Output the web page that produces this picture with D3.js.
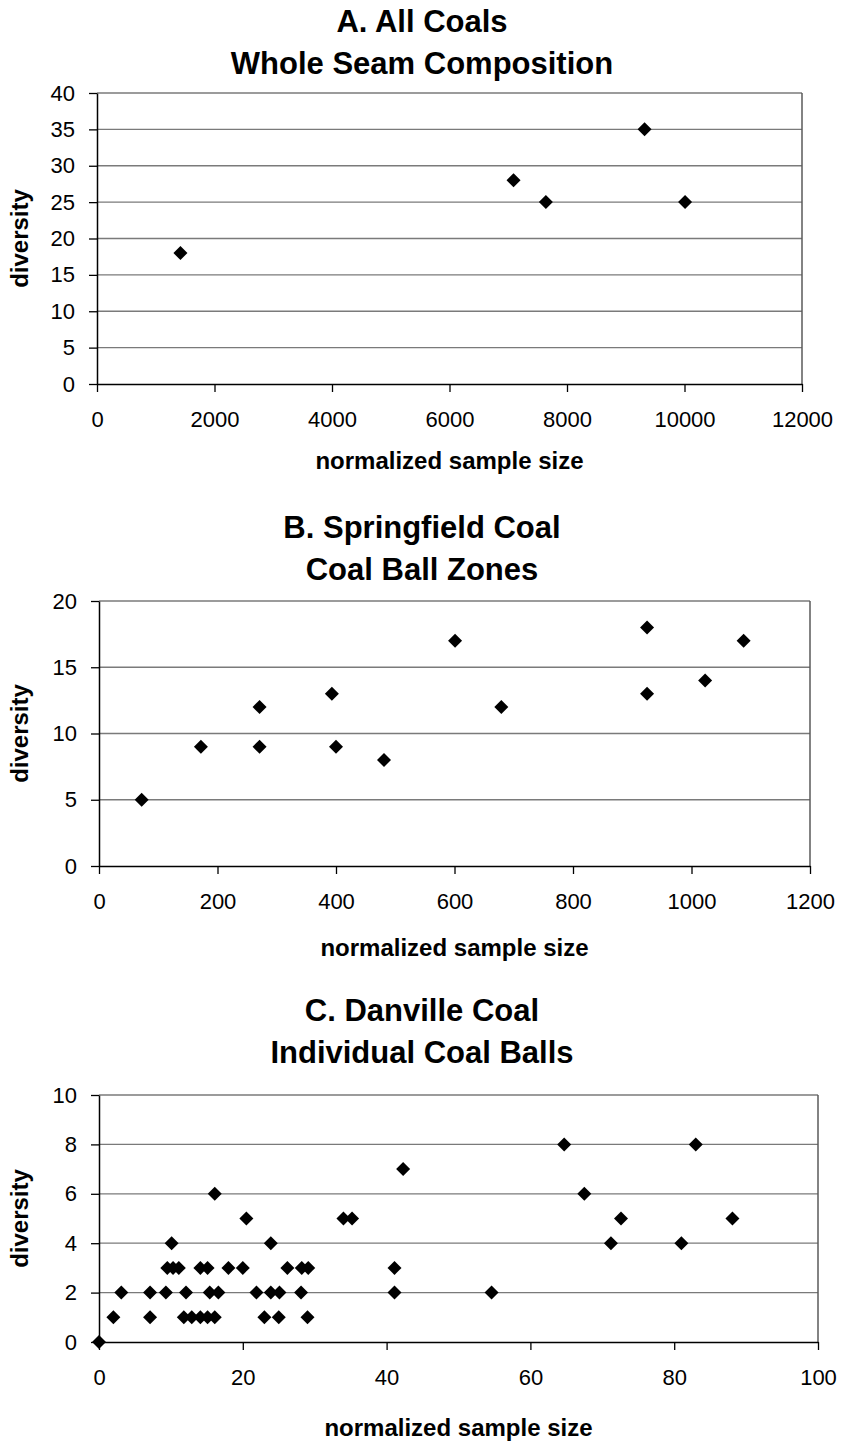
<!DOCTYPE html>
<html>
<head>
<meta charset="utf-8">
<script src="https://cdn.jsdelivr.net/npm/d3@7"></script>
<style>
  body { margin: 0; background: #fff; }
  text { font-family: "Liberation Sans", Arial, sans-serif; fill: #000; }
</style>
</head>
<body>
<svg id="chart"></svg>
<script>
// A. all coals
const titleA = ["A. All Coals", "Whole Seam Composition"];
const sampleA = [1420, 7090, 7640, 9320, 10010];
const diversityA = [18, 28, 25, 35, 25];
const xTicksA = [0, 2000, 4000, 6000, 8000, 10000, 12000];
const yTicksA = [0, 5, 10, 15, 20, 25, 30, 35, 40];

// B. springfield coal
const titleB = ["B. Springfield Coal", "Coal Ball Zones"];
const sampleB = [72, 172, 271, 271, 393, 400, 481, 601, 679, 925, 925, 1023, 1088];
const diversityB = [5, 9, 12, 9, 13, 9, 8, 17, 12, 18, 13, 14, 17];
const xTicksB = [0, 200, 400, 600, 800, 1000, 1200];
const yTicksB = [0, 5, 10, 15, 20];

// C. danville coal
const titleC = ["C. Danville Coal", "Individual Coal Balls"];
const sampleC = [0, 2, 3.1, 7.1, 7.1, 9.3, 9.5, 10.3, 11.1, 10.1,
  11.8, 12.1, 12.9, 14.1, 14.1, 15.1, 15.1, 15.4, 16.1, 16.6, 16.1,
  18, 20, 20.5, 21.9, 23, 23.9, 23.9, 25, 25.1, 26.2, 28.1, 28.2, 29.1, 29,
  34, 35.2, 41.1, 41.1, 42.3, 54.6,
  64.7, 67.5, 71.2, 72.6, 81, 83, 88.1];
const diversityC = [0, 1, 2, 1, 2, 2, 3, 3, 3, 4,
  1, 2, 1, 1, 3, 1, 3, 2, 1, 2, 6,
  3, 3, 5, 2, 1, 2, 4, 1, 2, 3, 2, 3, 3, 1,
  5, 5, 2, 3, 7, 2,
  8, 6, 4, 5, 4, 8, 5];
const xTicksC = [0, 20, 40, 60, 80, 100];
const yTicksC = [0, 2, 4, 6, 8, 10];

const xLabel = "normalized sample size";
const yLabel = "diversity";

const width = 845, height = 1443;
const titleX = 422;

const panels = [
  {title: titleA, xs: sampleA, ys: diversityA, xTicks: xTicksA, yTicks: yTicksA,
   left: 97, right: 802, top: 93, bottom: 384, titleY: 32, xLabelY: 469},
  {title: titleB, xs: sampleB, ys: diversityB, xTicks: xTicksB, yTicks: yTicksB,
   left: 99, right: 810, top: 601, bottom: 866, titleY: 538, xLabelY: 956},
  {title: titleC, xs: sampleC, ys: diversityC, xTicks: xTicksC, yTicks: yTicksC,
   left: 99, right: 818, top: 1095, bottom: 1342, titleY: 1021, xLabelY: 1436}
];

const svg = d3.select("#chart").attr("width", width).attr("height", height);

const diamond = d3.symbol().type(d3.symbolSquare).size(98);

panels.forEach(p => {
  const g = svg.append("g");
  const x = d3.scaleLinear()
    .domain(d3.extent(p.xTicks))
    .range([p.left, p.right]);
  const y = d3.scaleLinear()
    .domain(d3.extent(p.yTicks))
    .range([p.bottom, p.top]);

  // titles
  g.selectAll(".title")
    .data(p.title)
    .enter()
    .append("text")
    .attr("class", "title")
    .attr("x", titleX)
    .attr("y", (d, i) => p.titleY + i * 42)
    .attr("text-anchor", "middle")
    .style("font-size", "31px")
    .style("font-weight", "bold")
    .text(d => d);

  // gridlines
  g.selectAll(".grid")
    .data(p.yTicks.slice(1))
    .enter()
    .append("line")
    .attr("class", "grid")
    .attr("x1", p.left)
    .attr("x2", p.right)
    .attr("y1", d => y(d))
    .attr("y2", d => y(d))
    .attr("stroke", "#7a7a7a")
    .attr("stroke-width", 1.3);

  // right frame
  g.append("line")
    .attr("x1", p.right).attr("x2", p.right)
    .attr("y1", p.top).attr("y2", p.bottom)
    .attr("stroke", "#5a5a5a")
    .attr("stroke-width", 1.5);

  const xAxis = g.append("g")
    .attr("transform", `translate(0,${p.bottom})`)
    .call(d3.axisBottom(x).tickValues(p.xTicks).tickSize(8).tickSizeOuter(0).tickPadding(19).tickFormat(d3.format("d")));
  const yAxis = g.append("g")
    .attr("transform", `translate(${p.left},0)`)
    .call(d3.axisLeft(y).tickValues(p.yTicks).tickSize(8).tickSizeOuter(0).tickPadding(14).tickFormat(d3.format("d")));

  [xAxis, yAxis].forEach(a => {
    a.select(".domain").attr("stroke", "#000").attr("stroke-width", 1.5);
    a.selectAll(".tick line").attr("stroke", "#000").attr("stroke-width", 1.3);
    a.selectAll(".tick text")
      .style("font-size", "22px")
      .style("font-family", '"Liberation Sans", Arial, sans-serif')
      .attr("fill", "#000");
  });

  // axis titles
  g.append("text")
    .attr("x", (p.left + p.right) / 2)
    .attr("y", p.xLabelY)
    .attr("text-anchor", "middle")
    .style("font-size", "24px")
    .style("font-weight", "bold")
    .text(xLabel);

  g.append("text")
    .attr("transform", `translate(28,${(p.top + p.bottom) / 2}) rotate(-90)`)
    .attr("text-anchor", "middle")
    .style("font-size", "24px")
    .style("font-weight", "bold")
    .text(yLabel);

  // points
  g.selectAll(".pt")
    .data(p.xs.map((v, i) => [v, p.ys[i]]))
    .enter()
    .append("path")
    .attr("class", "pt")
    .attr("d", diamond)
    .attr("transform", d => `translate(${x(d[0])},${y(d[1])}) rotate(45)`)
    .attr("fill", "#000");
});
</script>
</body>
</html>
